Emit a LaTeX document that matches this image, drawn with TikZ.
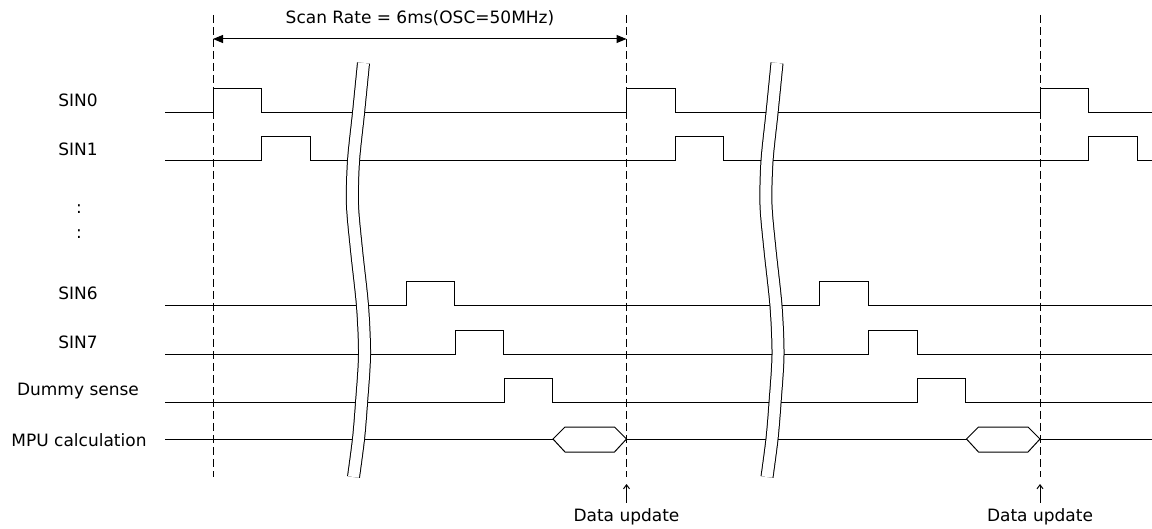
\documentclass[tikz,border=0pt]{standalone}
\usepackage{fontspec}
\setmainfont{DejaVu Sans}
\usetikzlibrary{arrows.meta}
\tikzset{
 sig/.style={black, line width=1pt},
 guide/.style={black, line width=0.9pt, dash pattern=on 8pt off 4pt},
 lbl/.style={font=\fontsize{17}{20}\selectfont, inner sep=1pt},
 brk/.style={black, line width=1pt, double=white, double distance=11pt},
}
\begin{document}
\begin{tikzpicture}[x=1pt, y=-1pt]
\useasboundingbox (0,0) rectangle (1152,529);
\foreach \x in {213, 626.5, 1040} {
 \draw[guide] (\x,15) -- (\x,477);
}
\coordinate (s0) at (213,39);
\coordinate (s1) at (626.5,39);
\draw[sig, {Triangle[length=10pt,width=8pt]}-{Triangle[length=10pt,width=8pt]}] (s0) -- (s1);
\node[lbl] (scan) at (420,18) {Scan Rate = 6ms(OSC=50MHz)};
\node[lbl] (sin0) at (78,100) {SIN0};
\node[lbl] (sin1) at (78,149) {SIN1};
\node[lbl] (dotsa) at (79,209) {:};
\node[lbl] (dotsb) at (79,234) {:};
\node[lbl] (sin6) at (78,293) {SIN6};
\node[lbl] (sin7) at (78,342) {SIN7};
\node[lbl] (dummy) at (78,391) {Dummy sense};
\node[lbl] (mpu) at (79,440) {MPU calculation};
\foreach \y/\p in {113/{213,626.5,1040}, 161/{261.5,675,1088.5}, 306/{406,819.5}, 355/{455,868.5}, 403/{504,917}} {
 \draw[sig] (165,\y) \foreach \x in \p {-- (\x,\y) -- ++(0,-24) -- ++(48.5,0) -- ++(0,24)} -- (1152,\y);
}
\draw[sig] (165,439) -- (553,439) (626.5,439) -- (966.5,439) (1040,439) -- (1152,439);
\foreach \x in {553, 966.5} {
 \draw[sig] (\x,439) -- ++(12,-12) -- ++(49.5,0) -- ++(12,12) -- ++(-12,13) -- ++(-49.5,0) -- cycle;
}
\foreach \b in {0, 413.5} {
 \draw[brk, shift={(\b,0)}] plot[smooth] coordinates {(363.5,63) (358.5,113) (353.5,161) (352.5,205) (356.5,250) (362.5,306) (364.5,355) (361.5,403) (358.5,439) (353.5,477)};
}
\node[lbl] (upda) at (626.5,517) {Data update};
\node[lbl] (updb) at (1040,517) {Data update};
\coordinate (ta) at (626.5,484);
\coordinate (tb) at (1040,484);
\draw[sig, -{Straight Barb[length=4pt,width=6pt]}] ([yshift=5pt]upda.north) -- (ta);
\draw[sig, -{Straight Barb[length=4pt,width=6pt]}] ([yshift=5pt]updb.north) -- (tb);
\end{tikzpicture}
\end{document}
